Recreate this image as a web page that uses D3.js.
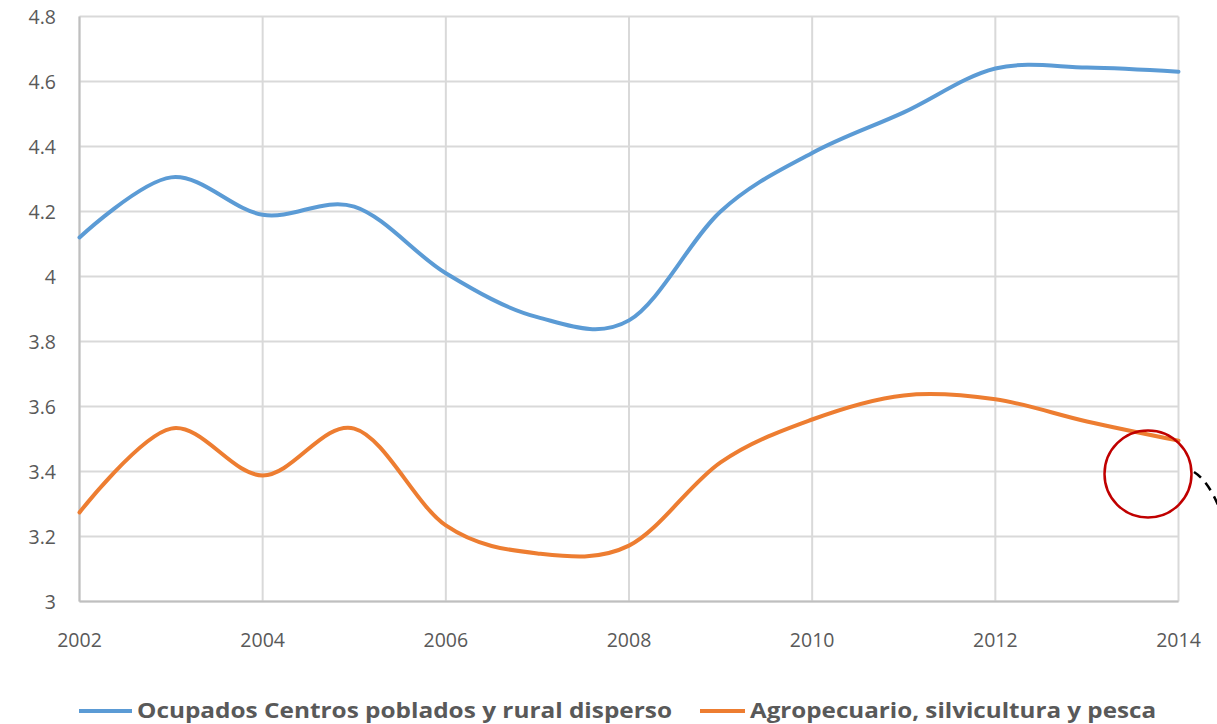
<!DOCTYPE html>
<html><head><meta charset="utf-8">
<script src="https://cdn.jsdelivr.net/npm/d3@7"></script>
<style>body{margin:0;background:#fff}svg{display:block}</style>
</head><body>
<svg id="c" width="1217" height="724"></svg>
<script>
const years = [2002,2003,2004,2005,2006,2007,2008,2009,2010,2011,2012,2013,2014];
const ocupados = [4.12,4.305,4.19,4.215,4.01,3.875,3.865,4.20,4.38,4.505,4.64,4.643,4.63];
const agro = [3.274,3.532,3.388,3.532,3.234,3.148,3.172,3.428,3.56,3.634,3.622,3.554,3.495];
const xTicks = [2002,2004,2006,2008,2010,2012,2014];
const yTicks = [3,3.2,3.4,3.6,3.8,4,4.2,4.4,4.6,4.8];
const seriesNames = ["Ocupados Centros poblados y rural disperso","Agropecuario, silvicultura y pesca"];
const colors = ["#5B9BD5","#ED7D31"];

const svg = d3.select("#c");
const font = "'Open Sans', 'Liberation Sans', sans-serif";
const x = d3.scaleLinear().domain([2002,2014]).range([79.5,1178.5]);
const y = d3.scaleLinear().domain([3,4.8]).range([601.5,16.5]);

// gridlines
svg.append("g").selectAll("line.h").data(yTicks).join("line")
  .attr("x1",x(2002)).attr("x2",x(2014)).attr("y1",d=>y(d)).attr("y2",d=>y(d))
  .attr("stroke","#D9D9D9").attr("stroke-width",2);
svg.append("g").selectAll("line.v").data(xTicks).join("line")
  .attr("y1",y(3)).attr("y2",y(4.8)).attr("x1",d=>x(d)).attr("x2",d=>x(d))
  .attr("stroke","#D9D9D9").attr("stroke-width",2);
// axis lines
svg.append("line").attr("x1",x(2002)).attr("x2",x(2014)).attr("y1",y(3)).attr("y2",y(3)).attr("stroke","#BFBFBF").attr("stroke-width",2);
svg.append("line").attr("x1",x(2002)).attr("x2",x(2002)).attr("y1",y(3)).attr("y2",y(4.8)).attr("stroke","#BFBFBF").attr("stroke-width",2);

// tick labels
svg.append("g").selectAll("text").data(yTicks).join("text")
  .attr("x",56).attr("y",d=>y(d)).attr("dy","0.36em").attr("text-anchor","end")
  .attr("font-family",font).attr("font-size",19.5).attr("fill","#595959")
  .text(d=>d3.format("")(+d.toFixed(1)));
svg.append("g").selectAll("text").data(xTicks).join("text")
  .attr("x",d=>x(d)).attr("y",640).attr("dy","0.36em").attr("text-anchor","middle")
  .attr("font-family",font).attr("font-size",19.5).attr("fill","#595959")
  .text(d=>d);

// lines
const line = d3.line().x((d,i)=>x(years[i])).y(d=>y(d)).curve(d3.curveCatmullRom.alpha(0));
[ocupados,agro].forEach((s,k)=>{
  svg.append("path").attr("d",line(s)).attr("fill","none")
    .attr("stroke",colors[k]).attr("stroke-width",4).attr("stroke-linecap","round");
});

// annotation
svg.append("circle").attr("cx",1148).attr("cy",474).attr("r",43.5)
  .attr("fill","none").attr("stroke","#C00000").attr("stroke-width",2.5);
svg.append("path").attr("d","M1194,472 Q1210,482 1222,515")
  .attr("fill","none").attr("stroke","#000").attr("stroke-width",2.5).attr("stroke-dasharray","9,7");

// legend
const leg = [{x1:79,x2:132,tx:137,w:535},{x1:700,x2:745,tx:750,w:406}];
leg.forEach((L,k)=>{
  svg.append("line").attr("x1",L.x1).attr("x2",L.x2).attr("y1",711).attr("y2",711)
    .attr("stroke",colors[k]).attr("stroke-width",4);
  svg.append("text").attr("x",L.tx).attr("y",718)
    .attr("font-family",font).attr("font-weight","bold").attr("font-size",22).attr("fill","#595959")
    .attr("textLength",L.w).attr("lengthAdjust","spacingAndGlyphs")
    .text(seriesNames[k]);
});
</script>
</body></html>
